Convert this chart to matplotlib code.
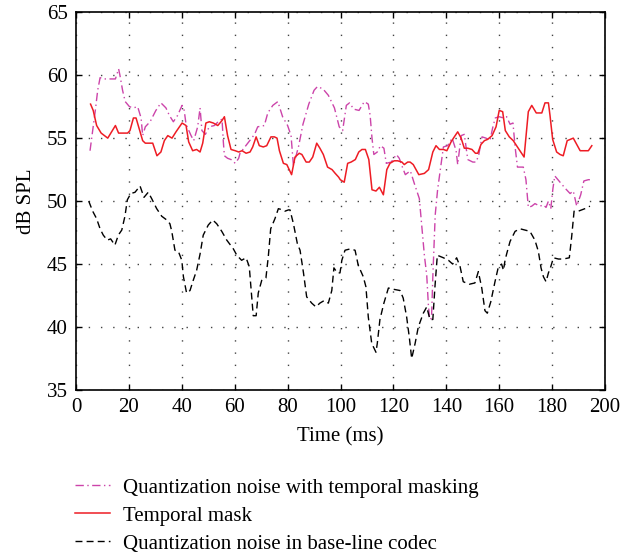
import numpy as np
import matplotlib
matplotlib.use("Agg")
import matplotlib.pyplot as plt

# quantization noise with temporal masking (dash-dot, magenta)
masked_t = [5.3, 6.3, 7.3, 8.2, 9.1, 10.7, 13.2, 14.9, 16.1, 16.6, 17.6, 18.6, 20.2, 21.7, 23.3,
            24.6, 25.2, 26.2, 28.0, 30.2, 32.1, 34.0, 35.3, 36.8, 38.4, 40.1, 40.9, 41.6, 43.5,
            44.5, 46.0, 46.9, 47.6, 48.9, 50.4, 52.3, 54.2, 55.2, 55.7, 56.1, 57.3, 58.6, 60.2,
            61.5, 62.0, 67.5, 68.7, 71.2, 72.5, 74.4, 76.3, 78.1, 80.0, 81.3, 82.2, 83.2, 84.2,
            85.8, 88.0, 90.0, 91.3, 93.4, 95.4, 97.7, 99.5, 100.8, 102.2, 103.4, 105.0, 107.0,
            109.0, 110.5, 111.2, 111.9, 112.6, 113.9, 115.1, 116.4, 117.3, 119.2, 121.1, 122.2,
            123.4, 124.5, 126.4, 127.9, 129.8, 130.8, 131.7, 132.6, 133.2, 133.7, 134.4, 134.9,
            135.8, 136.7, 138.0, 138.9, 140.5, 142.2, 143.7, 144.3, 145.6, 146.8, 148.1, 150.0,
            151.2, 152.2, 153.5, 155.0, 156.5, 157.5, 158.5, 160.0, 161.6, 162.8, 164.1, 165.2,
            166.0, 166.9, 169.1, 170.1, 170.6, 171.0, 172.3, 173.5, 175.4, 176.7, 177.7, 178.6,
            179.5, 180.3, 181.0, 183.0, 185.0, 186.8, 188.0, 189.3, 190.8, 192.0, 193.7, 195.0]
masked_db = [54.0, 55.6, 57.2, 58.8, 59.8, 59.7, 59.7, 59.7, 60.5, 60.0, 58.8, 57.9, 57.5, 57.4, 57.5,
             56.6, 55.2, 55.9, 56.3, 57.2, 57.8, 57.4, 56.8, 56.3, 56.8, 57.6, 57.2, 56.1, 55.2,
             54.8, 55.9, 57.4, 55.6, 55.3, 55.9, 56.0, 56.4, 56.5, 54.7, 53.6, 53.4, 53.3, 53.0,
             53.4, 53.8, 55.3, 55.9, 56.0, 57.0, 57.6, 57.9, 56.7, 56.0, 55.2, 52.8, 53.6, 54.4,
             56.1, 57.7, 58.8, 59.1, 58.9, 58.4, 57.4, 55.9, 55.6, 57.6, 57.8, 57.3, 57.2,
             57.9, 57.7, 56.8, 55.0, 53.7, 53.9, 54.4, 54.2, 53.0, 53.1, 53.7, 53.4,
             52.7, 52.1, 52.4, 51.4, 50.2, 47.8, 45.7, 44.1, 41.8, 40.6, 40.7, 44.0,
             48.9, 50.9, 52.9, 54.3, 54.4, 55.0, 54.0, 52.9, 55.2, 55.3, 53.3, 53.1,
             53.1, 53.6, 55.1, 55.0, 54.8, 55.8, 56.6, 56.7, 56.6, 56.7, 56.1, 56.2,
             54.3, 52.7, 52.7, 51.7, 50.5, 49.5, 49.6, 49.8, 49.6, 49.7, 49.5, 50.0,
             49.4, 51.0, 52.0, 51.5, 51.0, 50.6, 50.8, 49.6, 50.5, 51.6, 51.7, 51.7]

# temporal mask (solid red)
mask_t = [5.5, 6.5, 7.8, 9.5, 12.0, 14.9, 16.1, 19.5, 20.4, 21.7, 22.7, 25.2, 26.2, 29.0, 30.6,
          32.1, 33.4, 34.7, 36.3, 37.8, 40.1, 41.6, 42.6, 44.1, 45.6, 46.9, 47.9, 49.1, 50.4,
          51.9, 53.6, 55.2, 56.1, 57.3, 58.6, 60.2, 61.5, 62.8, 64.3, 65.8, 66.8, 68.1, 69.3,
          70.8, 72.1, 73.7, 75.0, 76.0, 76.9, 78.4, 79.7, 81.5, 82.8, 84.4, 85.4, 87.0, 88.2,
          89.5, 91.0, 92.2, 93.5, 95.1, 96.8, 98.0, 99.3, 99.9, 101.4, 102.7, 104.0, 105.6,
          106.9, 108.1, 109.4, 110.7, 111.9, 113.4, 114.7, 116.2, 117.5, 118.7, 120.3, 121.6,
          123.2, 124.1, 125.4, 126.3, 127.5, 129.6, 131.7, 133.3, 134.9, 136.1, 137.4, 138.9,
          140.2, 141.8, 142.7, 144.3, 145.6, 146.8, 148.1, 149.7, 151.0, 151.9, 153.1, 154.4,
          155.6, 157.3, 158.8, 160.0, 161.3, 162.3, 163.8, 165.3, 167.2, 169.4, 171.0, 172.3,
          174.0, 176.1, 177.3, 178.6, 179.2, 180.2, 181.7, 183.0, 184.2, 185.7, 188.0, 190.6,
          192.4, 193.7, 195.0]
mask_db = [57.7, 57.2, 56.0, 55.4, 55.0, 56.0, 55.4, 55.4, 55.6, 56.6, 56.6, 54.8, 54.6, 54.6, 53.6,
           53.9, 54.8, 55.2, 55.0, 55.5, 56.2, 56.0, 54.7, 54.0, 54.1, 53.9, 54.6, 56.2, 56.3,
           56.2, 56.0, 56.4, 56.7, 55.2, 54.1, 54.0, 53.9, 54.0, 53.8, 53.9, 54.3, 55.1, 54.4,
           54.3, 54.4, 55.1, 55.1, 55.0, 54.0, 53.0, 52.9, 52.1, 53.5, 53.8, 53.7, 53.1, 53.1,
           53.5, 54.6, 54.2, 53.7, 52.7, 52.5, 52.2, 51.9, 51.7, 51.5, 53.0, 53.1, 53.3,
           53.9, 54.1, 54.1, 53.3, 50.9, 50.8, 51.1, 50.5, 52.5, 53.0, 53.2, 53.2,
           53.1, 52.9, 53.1, 53.1, 52.9, 52.1, 52.2, 52.5, 53.9, 54.4, 54.1, 54.1,
           54.0, 54.7, 55.0, 55.5, 55.0, 54.2, 54.2, 54.1, 53.8, 53.8, 54.5, 54.8,
           54.9, 55.2, 55.9, 57.2, 57.1, 55.6, 55.1, 54.8, 54.2, 53.5, 57.1, 57.6,
           57.0, 57.0, 57.8, 57.8, 56.8, 54.9, 53.9, 53.7, 53.6, 54.8, 55.0, 54.0,
           54.0, 54.0, 54.4]

# quantization noise in base-line codec (dashed black)
base_t = [4.8, 6.3, 7.8, 9.1, 10.3, 11.8, 13.1, 14.7, 16.0, 17.3, 18.5, 19.4, 20.7, 22.3, 24.2,
          25.7, 27.3, 28.6, 30.5, 32.4, 34.3, 35.5, 36.2, 37.4, 38.7, 40.0, 40.6, 41.8, 43.1,
          44.3, 45.6, 46.9, 48.1, 50.0, 51.7, 53.2, 55.1, 57.0, 59.5, 60.8, 62.6, 64.3, 65.5,
          66.4, 67.0, 68.1, 68.9, 70.2, 71.8, 72.7, 73.6, 75.2, 76.5, 78.1, 79.0, 80.3, 80.9,
          82.2, 83.7, 84.7, 86.0, 87.2, 89.1, 90.7, 92.2, 93.8, 95.4, 96.7, 97.5, 98.8, 99.8,
          100.5, 101.7, 103.6, 105.5, 106.7, 108.6, 109.6, 110.5, 111.8, 113.4, 113.9, 114.9,
          116.4, 118.1, 120.0, 122.5, 123.7, 125.0, 126.0, 126.9, 128.2, 129.4, 131.3, 132.6,
          133.8, 134.9, 135.7, 136.6, 138.9, 140.8, 142.4, 143.9, 145.2, 146.4, 148.7, 150.8,
          152.1, 153.4, 154.6, 155.5, 156.8, 158.4, 159.7, 160.9, 161.6, 162.2, 162.8, 164.1,
          166.0, 167.9, 169.8, 171.6, 173.5, 174.8, 175.8, 176.7, 177.7, 178.6, 179.5, 180.5,
          182.4, 184.2, 186.5, 187.4, 188.3, 189.9, 191.2, 192.4, 194.3]
base_db = [50.0, 49.2, 48.6, 47.8, 47.3, 46.9, 47.0, 46.5, 47.3, 47.7, 48.8, 50.1, 50.6, 50.7, 51.2,
           50.3, 50.7, 50.2, 49.4, 48.8, 48.5, 48.2, 47.6, 46.1, 46.0, 45.3, 44.0, 42.7, 42.9,
           43.7, 44.5, 45.8, 47.3, 48.1, 48.5, 48.2, 47.6, 46.9, 46.2, 45.7, 45.3, 45.5, 44.8,
           42.4, 40.9, 40.9, 42.7, 43.7, 43.9, 45.6, 47.8, 48.6, 49.4, 49.3, 49.2, 49.3, 49.3,
           48.2, 46.6, 46.1, 44.3, 42.4, 41.9, 41.6, 41.9, 42.1, 41.9, 42.9, 44.7, 44.3, 44.3,
           45.3, 46.1, 46.2, 46.1, 44.9, 44.0, 43.2, 40.8, 38.7, 38.0, 38.7, 40.6,
           41.9, 43.1, 43.0, 42.9, 42.3, 40.8, 39.2, 37.5, 38.7, 40.0, 41.1, 41.6,
           40.6, 40.6, 43.2, 45.7, 45.5, 45.3, 45.0, 45.5, 44.8, 43.6, 43.4, 43.5,
           44.4, 43.1, 41.3, 41.1, 42.0, 43.6, 44.8, 45.0, 44.5, 45.3, 45.8, 46.8,
           47.6, 47.8, 47.7, 47.6, 46.9, 46.0, 44.7, 44.0, 43.6, 44.3, 44.8, 45.5,
           45.4, 45.4, 45.5, 47.2, 49.2, 49.2, 49.3, 49.4, 49.6]

x_ticks = np.arange(0, 201, 20)
y_ticks = np.arange(35, 66, 5)

plt.rcParams['font.family'] = ['Liberation Serif', 'DejaVu Serif']
plt.rcParams['font.size'] = 15

fig = plt.figure(figsize=(6.35, 5.54), dpi=100)
ax = fig.add_axes([0.1197, 0.296, 0.8331, 0.682])

l1, = ax.plot(masked_t, masked_db, color='#cc44aa', linestyle=(0, (6, 2.5, 1, 2.5)), linewidth=1.0)
l2, = ax.plot(mask_t, mask_db, color='#ee1c24', linestyle='-', linewidth=1.1)
l3, = ax.plot(base_t, base_db, color='black', linestyle=(0, (5, 3)), linewidth=1.0)

ax.set_xlim(0, 200)
ax.set_ylim(35, 65)
ax.set_xticks(x_ticks)
ax.set_yticks(y_ticks)
ax.grid(True, color='#444444', linestyle=(0, (1, 7.8)), linewidth=1.0)
ax.tick_params(direction='in', top=True, right=True, length=4, width=1, pad=6)
for s in ax.spines.values():
    s.set_linewidth(1.2)

ax.set_xlabel('Time (ms)', labelpad=7)
ax.set_ylabel('dB SPL', labelpad=8)

fig.legend([l1, l2, l3],
           ['Quantization noise with temporal masking', 'Temporal mask',
            'Quantization noise in base-line codec'],
           loc='upper left', bbox_to_anchor=(0.118, 0.137),
           bbox_transform=fig.transFigure, frameon=False,
           handlelength=1.7, handletextpad=0.6, labelspacing=0.4,
           borderaxespad=0, borderpad=0)

fig.savefig('out.png', dpi=100)
